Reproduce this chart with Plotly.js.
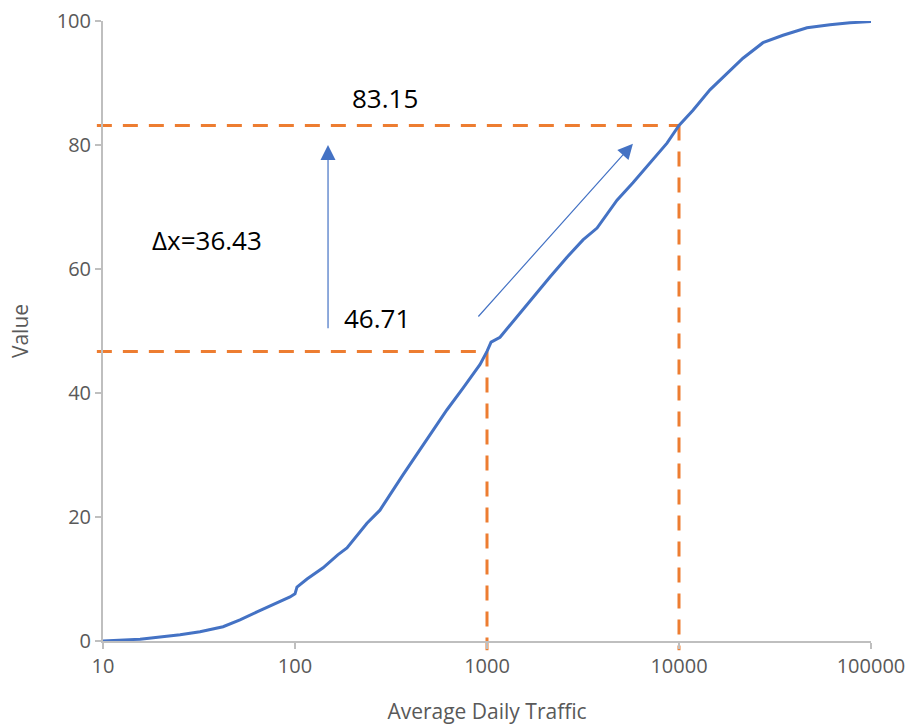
<!DOCTYPE html>
<html>
<head>
<meta charset="utf-8">
<script src="https://cdn.plot.ly/plotly-3.0.1.min.js"></script>
<style>html,body{margin:0;padding:0;background:#fff;}#chart{width:910px;height:725px;}</style>
</head>
<body>
<div id="chart"></div>
<script>
// Data
const adt = [10, 15.6, 25.2, 32, 42.2, 51.7, 63.4, 76.8, 94.2, 100, 102.4, 115.5, 140, 167, 186.5, 237, 277, 365, 448, 523, 619, 750, 920, 1000, 1050, 1169, 1432, 1738, 2128, 2610, 3162, 3742, 4755, 5756, 7063, 8660, 10000, 11830, 14490, 17780, 21540, 27380, 34810, 46420, 61140, 77640, 100000];
const value = [0, 0.3, 1.0, 1.5, 2.3, 3.4, 4.7, 5.8, 7.1, 7.6, 8.7, 10.0, 11.8, 13.9, 15.0, 19.0, 21.1, 26.8, 30.8, 34.0, 37.3, 40.8, 44.6, 46.71, 48.2, 49.0, 52.3, 55.5, 58.7, 61.9, 64.7, 66.6, 71.1, 73.9, 77.1, 80.3, 83.15, 85.6, 88.9, 91.6, 94.0, 96.5, 97.7, 98.9, 99.4, 99.7, 99.9];

const xTicks = [10, 100, 1000, 10000, 100000];
const xTickText = ['10', '100', '1000', '10000', '100000'];
const yTicks = [0, 20, 40, 60, 80, 100];

// Reference markers
const markX = [1000, 10000];
const markY = [46.71, 83.15];
const deltaLabel = '\u0394x=36.43';

const xLo = 1, xHi = 5, yLo = 0, yHi = 100;
const px = v => (Math.log10(v) - xLo) / (xHi - xLo);
const py = v => (v - yLo) / (yHi - yLo);

const orange = '#ED7D31';
const blue = '#4472C4';
const dashStyle = {color: orange, width: 3, dash: '15px,11px'};

const shapes = [];
for (let i = 0; i < markX.length; i++) {
  shapes.push({type: 'line', xref: 'paper', yref: 'paper', layer: 'below',
    x0: -0.008, x1: px(markX[i]), y0: py(markY[i]), y1: py(markY[i]), line: dashStyle});
  shapes.push({type: 'line', xref: 'paper', yref: 'paper', layer: 'below',
    x0: px(markX[i]), x1: px(markX[i]), y0: py(markY[i]), y1: -0.015, line: dashStyle});
}

const annFont = {family: 'Open Sans, sans-serif', size: 26, color: '#000000'};
const annotations = [
  {xref: 'x', yref: 'y', x: Math.log10(294), y: 87.6, text: markY[1].toFixed(2), showarrow: false, font: annFont},
  {xref: 'x', yref: 'y', x: Math.log10(267), y: 52.1, text: markY[0].toFixed(2), showarrow: false, font: annFont},
  {xref: 'x', yref: 'y', x: Math.log10(34.8), y: 64.7, text: deltaLabel, showarrow: false, font: annFont},
  {xref: 'x', yref: 'y', axref: 'x', ayref: 'y', x: Math.log10(148.6), y: 80.0, ax: Math.log10(148.6), ay: 50.2,
   text: '', showarrow: true, arrowhead: 2, arrowsize: 2.5, arrowwidth: 1.2, arrowcolor: blue},
  {xref: 'x', yref: 'y', axref: 'x', ayref: 'y', x: 3.76, y: 80.2, ax: 2.948, ay: 52.1,
   text: '', showarrow: true, arrowhead: 2, arrowsize: 2.5, arrowwidth: 1.2, arrowcolor: blue}
];

const trace = {
  x: adt, y: value, type: 'scatter', mode: 'lines',
  line: {color: blue, width: 3}, hoverinfo: 'skip', showlegend: false
};

const tickFont = {family: 'Open Sans, sans-serif', size: 20, color: '#595959'};
const titleFont = {family: 'Open Sans, sans-serif', size: 21, color: '#595959'};

const layout = {
  width: 910, height: 725,
  margin: {l: 103, r: 39, t: 21, b: 84},
  paper_bgcolor: '#ffffff', plot_bgcolor: '#ffffff',
  showlegend: false,
  xaxis: {
    type: 'log', range: [xLo, xHi], tickvals: xTicks, ticktext: xTickText,
    showgrid: false, zeroline: false, showline: true, linecolor: '#bfbfbf', linewidth: 2,
    ticks: 'outside', ticklen: 6, tickcolor: '#bfbfbf', tickwidth: 2,
    tickfont: tickFont,
    title: {text: 'Average Daily Traffic', font: titleFont, standoff: 28}
  },
  yaxis: {
    range: [yLo, yHi], tickvals: yTicks,
    showgrid: false, zeroline: false, showline: true, linecolor: '#bfbfbf', linewidth: 2,
    ticks: 'outside', ticklen: 6, tickcolor: '#bfbfbf', tickwidth: 2,
    tickfont: tickFont,
    title: {text: 'Value', font: titleFont, standoff: 22}
  },
  shapes: shapes,
  annotations: annotations
};

Plotly.newPlot('chart', [trace], layout, {displayModeBar: false, staticPlot: true});
</script>
</body>
</html>
